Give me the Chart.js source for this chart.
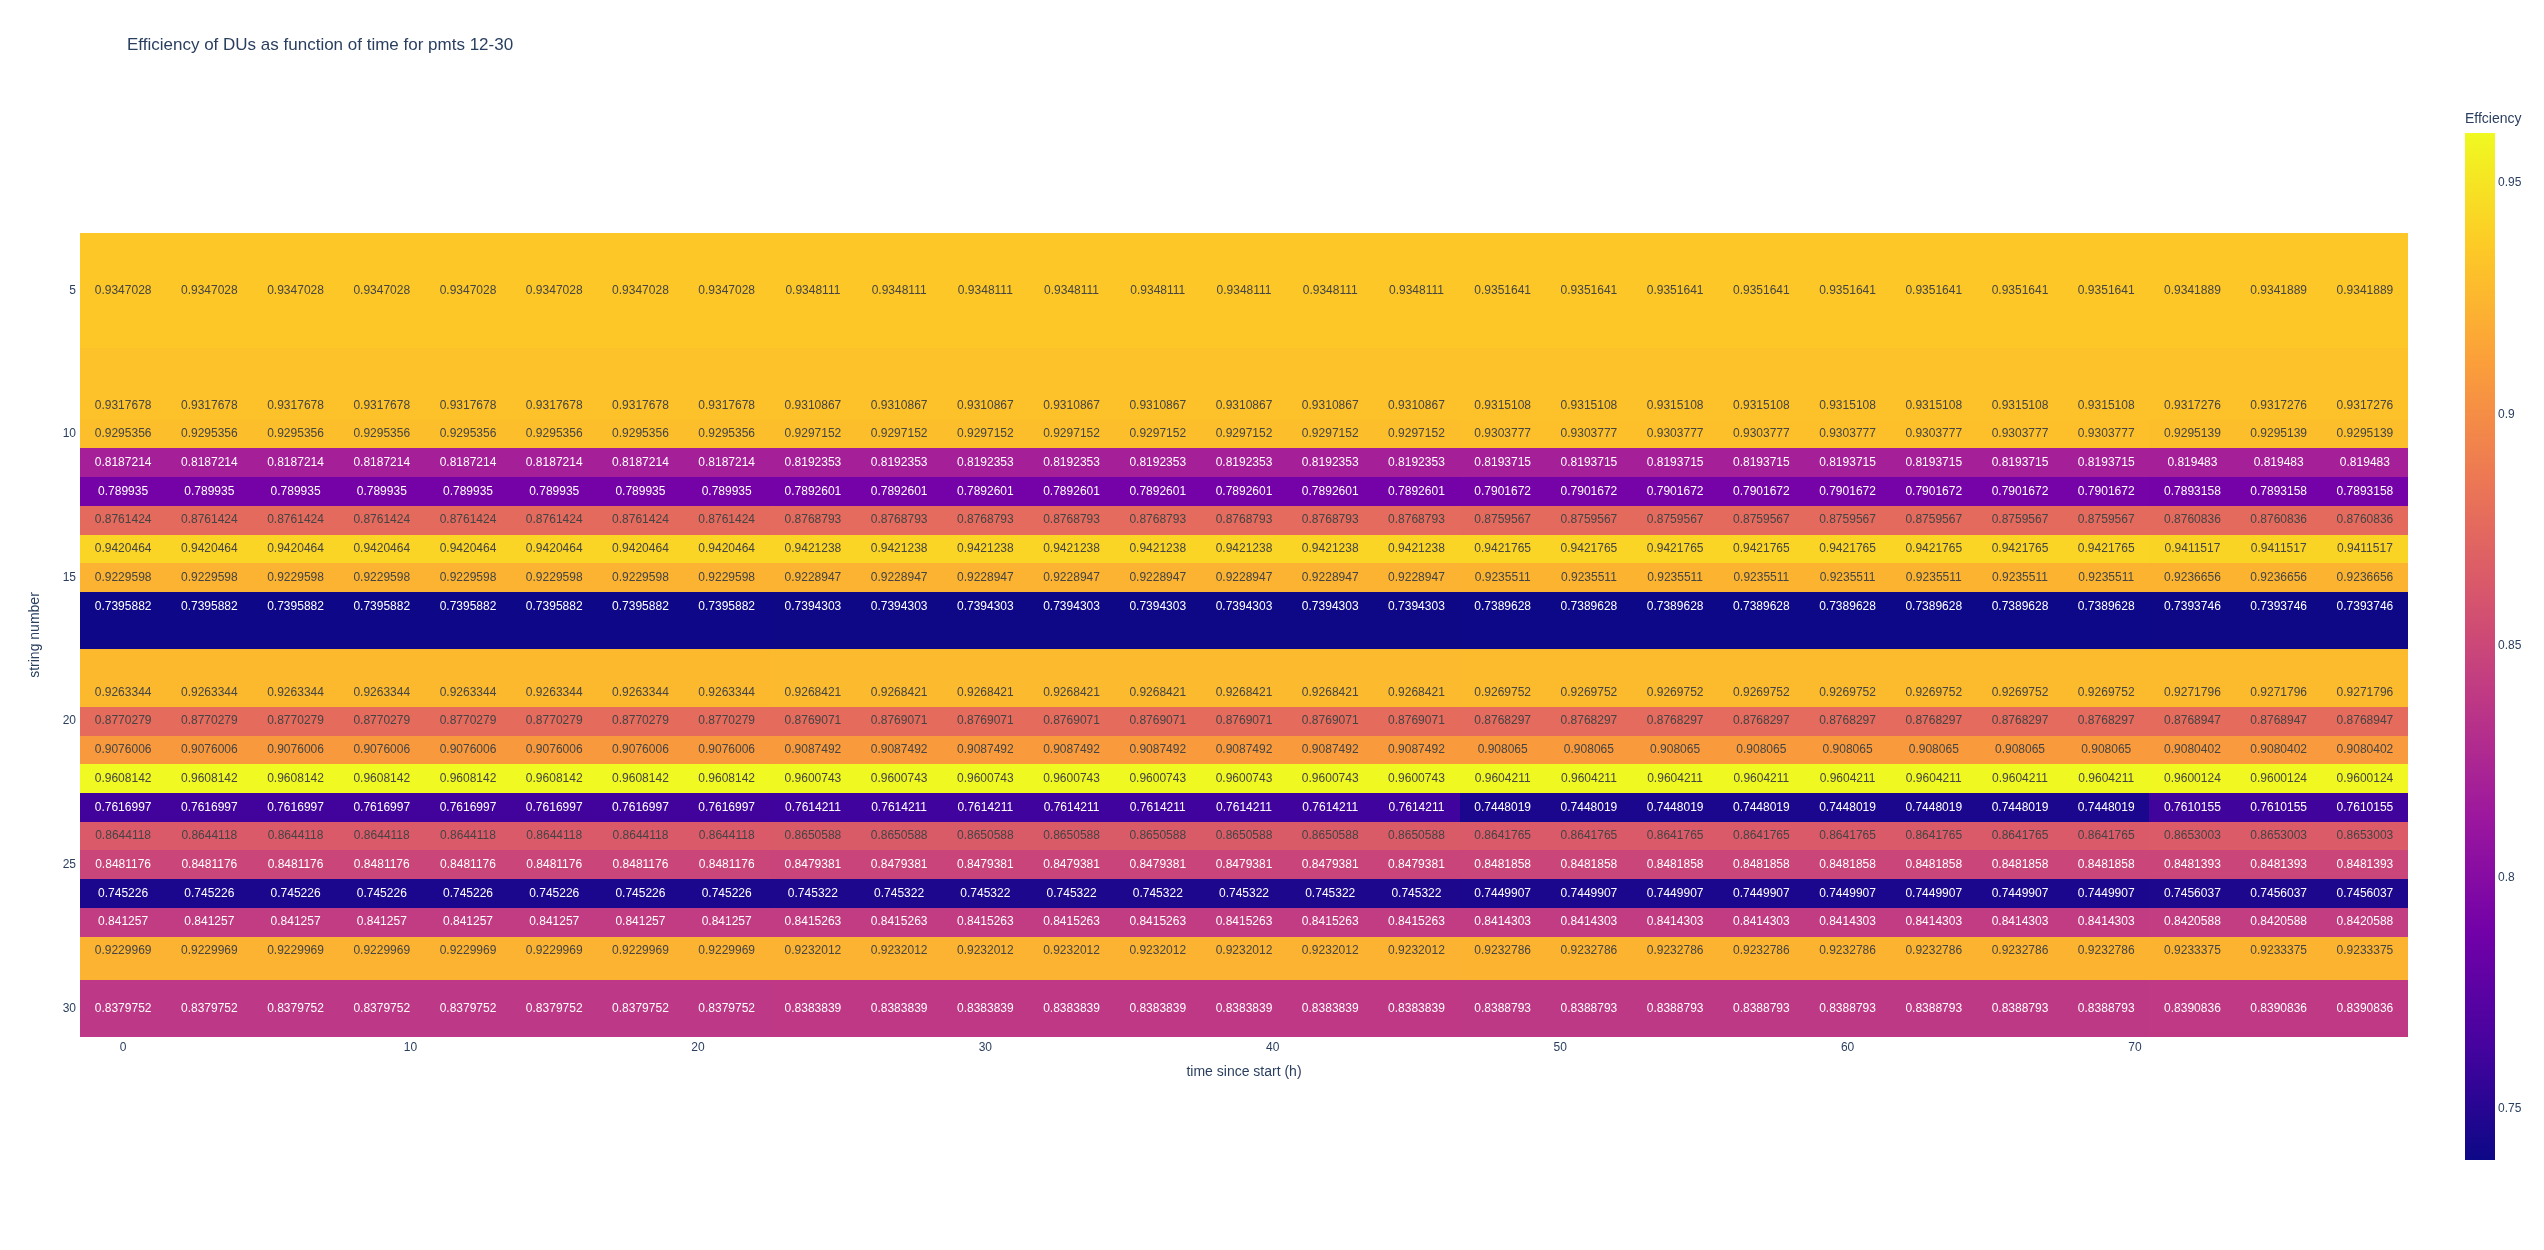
<!DOCTYPE html>
<html>
<head>
<meta charset="utf-8">
<script src="https://cdn.jsdelivr.net/npm/chart.js@4.4.1/dist/chart.umd.min.js"></script>
<style>
  body { margin: 0; background: #fff; }
  #wrap { position: relative; width: 2544px; height: 1250px; }
  #heat { position: absolute; left: 0; top: 0; }
  #cbar { position: absolute; left: 2440px; top: 0; }
</style>
</head>
<body>
<div id="wrap">
  <canvas id="heat" width="2544" height="1250"></canvas>
  <canvas id="cbar" width="104" height="1250"></canvas>
</div>
<script>
const chartTitle = 'Efficiency of DUs as function of time for pmts 12-30';

// hours since start (one column every 3 h)
const times = [0, 3, 6, 9, 12, 15, 18, 21, 24, 27, 30, 33, 36, 39, 42, 45, 48, 51, 54, 57, 60, 63, 66, 69, 72, 75, 78];
const strings = [5, 9, 10, 11, 12, 13, 14, 15, 16, 19, 20, 21, 22, 23, 24, 25, 26, 27, 28, 30];

// efficiency is constant within each period, one value per string
const blockStart = [0, 24, 48, 72];
const eff0h = [0.9347028, 0.9317678, 0.9295356, 0.8187214, 0.789935, 0.8761424, 0.9420464, 0.9229598, 0.7395882, 0.9263344,
               0.8770279, 0.9076006, 0.9608142, 0.7616997, 0.8644118, 0.8481176, 0.745226, 0.841257, 0.9229969, 0.8379752];
const eff24h = [0.9348111, 0.9310867, 0.9297152, 0.8192353, 0.7892601, 0.8768793, 0.9421238, 0.9228947, 0.7394303, 0.9268421,
                0.8769071, 0.9087492, 0.9600743, 0.7614211, 0.8650588, 0.8479381, 0.745322, 0.8415263, 0.9232012, 0.8383839];
const eff48h = [0.9351641, 0.9315108, 0.9303777, 0.8193715, 0.7901672, 0.8759567, 0.9421765, 0.9235511, 0.7389628, 0.9269752,
                0.8768297, 0.908065, 0.9604211, 0.7448019, 0.8641765, 0.8481858, 0.7449907, 0.8414303, 0.9232786, 0.8388793];
const eff72h = [0.9341889, 0.9317276, 0.9295139, 0.819483, 0.7893158, 0.8760836, 0.9411517, 0.9236656, 0.7393746, 0.9271796,
                0.8768947, 0.9080402, 0.9600124, 0.7610155, 0.8653003, 0.8481393, 0.7456037, 0.8420588, 0.9233375, 0.8390836];

const xTicks = [0, 10, 20, 30, 40, 50, 60, 70];
const yTicks = [5, 10, 15, 20, 25, 30];
const cbTicks = [0.75, 0.8, 0.85, 0.9, 0.95];

const plasma = ['#0d0887', '#46039f', '#7201a8', '#9c179e', '#bd3786', '#d8576b', '#ed7953', '#fb9f3a', '#fdca26', '#f0f921'];
const textDark = '#2a3f5f';
const fontFamily = '"Liberation Sans", Arial, sans-serif';

const blocks = [eff0h, eff24h, eff48h, eff72h];

function effAt(row, t) {
    let b = 0;
    for (let k = 0; k < blockStart.length; k++) {
        if (t >= blockStart[k]) b = k;
    }
    return blocks[b][row];
}

const cells = [];
strings.forEach((s, i) => {
    times.forEach(t => cells.push({ x: t, y: s, v: effAt(i, t) }));
});

const allVals = cells.map(c => c.v);
const zmin = Math.min(...allVals);
const zmax = Math.max(...allVals);

function hexRgb(h) {
    return [parseInt(h.slice(1, 3), 16), parseInt(h.slice(3, 5), 16), parseInt(h.slice(5, 7), 16)];
}

function plasmaRgb(v) {
    const t = Math.min(1, Math.max(0, (v - zmin) / (zmax - zmin)));
    const pos = t * (plasma.length - 1);
    const k = Math.min(Math.floor(pos), plasma.length - 2);
    const f = pos - k;
    const a = hexRgb(plasma[k]), b = hexRgb(plasma[k + 1]);
    return a.map((c, i) => Math.round(c + (b[i] - c) * f));
}

function cellText(v) {
    const [r, g, b] = plasmaRgb(v);
    return (r * 299 + g * 587 + b * 114) / 1000 < 128 ? '#ffffff' : '#444444';
}

// cell borders halfway between neighbouring values, like a plotly heatmap
function edges(vals) {
    const n = vals.length;
    const e = [vals[0] - (vals[1] - vals[0]) / 2];
    for (let i = 0; i < n - 1; i++) e.push((vals[i] + vals[i + 1]) / 2);
    e.push(vals[n - 1] + (vals[n - 1] - vals[n - 2]) / 2);
    return e;
}
const xEdges = edges(times);
const yEdges = edges(strings);

Chart.defaults.font.family = fontFamily;
Chart.defaults.color = textDark;

const heatmapPlugin = {
    id: 'heatmap',
    beforeDatasetsDraw(chart) {
        const { ctx, scales: { x, y } } = chart;
        ctx.save();
        chart.data.datasets[0].data.forEach(c => {
            const i = strings.indexOf(c.y);
            const j = times.indexOf(c.x);
            const x0 = Math.round(x.getPixelForValue(xEdges[j]));
            const x1 = Math.round(x.getPixelForValue(xEdges[j + 1]));
            const y0 = Math.round(y.getPixelForValue(yEdges[i]));
            const y1 = Math.round(y.getPixelForValue(yEdges[i + 1]));
            ctx.fillStyle = 'rgb(' + plasmaRgb(c.v).join(',') + ')';
            ctx.fillRect(x0, Math.min(y0, y1), x1 - x0, Math.abs(y1 - y0));
        });
        ctx.font = '12px ' + fontFamily;
        ctx.textAlign = 'center';
        ctx.textBaseline = 'middle';
        chart.data.datasets[0].data.forEach(c => {
            ctx.fillStyle = cellText(c.v);
            ctx.fillText(String(c.v), x.getPixelForValue(c.x), y.getPixelForValue(c.y));
        });
        ctx.restore();
    },
    afterDraw(chart) {
        const ctx = chart.ctx;
        ctx.save();
        ctx.font = '17px ' + fontFamily;
        ctx.fillStyle = textDark;
        ctx.textAlign = 'left';
        ctx.textBaseline = 'middle';
        ctx.fillText(chartTitle, 127, 45);
        ctx.restore();
    }
};

new Chart(document.getElementById('heat'), {
    type: 'scatter',
    data: {
        datasets: [{ data: cells, pointRadius: 0, pointHoverRadius: 0 }]
    },
    options: {
        responsive: false,
        animation: false,
        devicePixelRatio: 1,
        layout: { padding: { left: 0, top: 233, right: 136, bottom: 169 } },
        plugins: {
            legend: { display: false },
            tooltip: { enabled: false }
        },
        scales: {
            x: {
                type: 'linear',
                min: xEdges[0],
                max: xEdges[xEdges.length - 1],
                afterBuildTicks: s => { s.ticks = xTicks.map(v => ({ value: v })); },
                afterFit: s => { s.height = 44; },
                grid: { display: false, drawTicks: false },
                border: { display: false },
                ticks: { padding: 3, font: { size: 12 }, color: textDark, callback: v => String(v) },
                title: { display: true, text: 'time since start (h)', font: { size: 14 }, color: textDark, padding: { top: 0, bottom: 0 } }
            },
            y: {
                type: 'linear',
                reverse: true,
                min: yEdges[0],
                max: yEdges[yEdges.length - 1],
                afterBuildTicks: s => { s.ticks = yTicks.map(v => ({ value: v })); },
                afterFit: s => { s.width = 80; },
                grid: { display: false, drawTicks: false },
                border: { display: false },
                ticks: { padding: 4, font: { size: 12 }, color: textDark, callback: v => String(v) },
                title: { display: true, text: 'string number', font: { size: 14 }, color: textDark, padding: { top: 26.6, bottom: 0 } }
            }
        }
    },
    plugins: [heatmapPlugin]
});

// colour bar
const colorbarPlugin = {
    id: 'colorbar',
    beforeDatasetsDraw(chart) {
        const { ctx, chartArea: a, scales: { y } } = chart;
        const g = ctx.createLinearGradient(0, y.getPixelForValue(zmin), 0, y.getPixelForValue(zmax));
        plasma.forEach((c, i) => g.addColorStop(i / (plasma.length - 1), c));
        ctx.save();
        ctx.fillStyle = g;
        ctx.fillRect(a.left, a.top, a.right - a.left, a.bottom - a.top);
        ctx.restore();
    }
};

new Chart(document.getElementById('cbar'), {
    type: 'scatter',
    data: { datasets: [{ data: [] }] },
    options: {
        responsive: false,
        animation: false,
        devicePixelRatio: 1,
        layout: { padding: { left: 25, top: 0, right: 0, bottom: 90 } },
        plugins: {
            legend: { display: false },
            tooltip: { enabled: false },
            title: {
                display: true,
                text: 'Effciency',
                align: 'start',
                color: textDark,
                font: { size: 14, weight: 'normal' },
                padding: { top: 110.6, bottom: 5.6 }
            }
        },
        scales: {
            x: { display: false },
            y: {
                type: 'linear',
                position: 'right',
                min: zmin,
                max: zmax,
                afterBuildTicks: s => { s.ticks = cbTicks.map(v => ({ value: v })); },
                afterFit: s => { s.width = 49; },
                grid: { display: false, drawTicks: false },
                border: { display: false },
                ticks: { padding: 3, font: { size: 12 }, color: textDark, callback: v => String(v) }
            }
        }
    },
    plugins: [colorbarPlugin]
});
</script>
</body>
</html>
